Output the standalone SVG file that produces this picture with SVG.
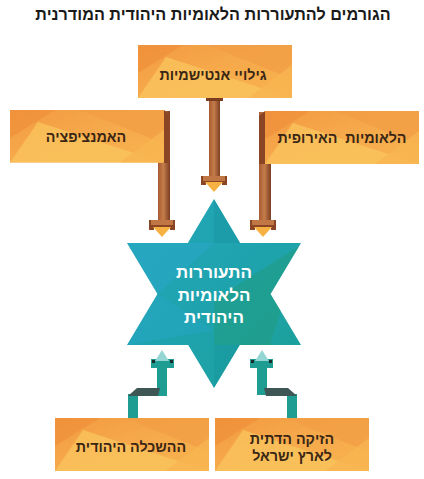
<svg xmlns="http://www.w3.org/2000/svg" xmlns:xlink="http://www.w3.org/1999/xlink" width="424" height="479" viewBox="0 0 424 479">
<style>
  .t { font-family: "Liberation Sans", "DejaVu Sans", sans-serif; font-weight: bold; text-anchor: middle; }
  .title { font-size: 16.2px; fill: #1a1a1a; }
  .box { font-size: 14.3px; fill: #3a2614; }
  .star { font-size: 17px; fill: #ffffff; }
  .shaft { fill: url(#brownShaft); }
  .whead { fill: #8a4524; }
  .yhead { fill: #f7b142; }
  .tshaft { fill: #1f9d93; }
  .tdark { fill: #3e5654; }
  .thead { fill: #1f9d93; }
  .tlight { fill: #93d6d3; }
  .tab { fill: #1b2a2a; }
</style>
<defs>
  <linearGradient id="brownShaft" x1="0" y1="0" x2="1" y2="0">
    <stop offset="0" stop-color="#a85a30"/>
    <stop offset="0.45" stop-color="#c47d4a"/>
    <stop offset="1" stop-color="#7c3e22"/>
  </linearGradient>
  <linearGradient id="boxBase" x1="0" y1="0" x2="1" y2="1">
    <stop offset="0" stop-color="#f39a42"/>
    <stop offset="0.5" stop-color="#f6aa4b"/>
    <stop offset="1" stop-color="#f8b24f"/>
  </linearGradient>
  <linearGradient id="starG" x1="0" y1="0" x2="1" y2="1">
    <stop offset="0" stop-color="#23a6b9"/>
    <stop offset="0.55" stop-color="#1ea3ad"/>
    <stop offset="1" stop-color="#1c9f96"/>
  </linearGradient>
  <g id="boxshape">
    <rect x="0" y="0" width="154" height="53" fill="url(#boxBase)"/>
    <polygon points="0,0 45,0 0,28" fill="#f0913c" opacity="0.8"/>
    <polygon points="0,53 28,12 154,53" fill="#f9c25c" opacity="0.85"/>
    <polygon points="70,0 154,0 154,34" fill="#f29d44" opacity="0.7"/>
    <polygon points="110,53 154,20 154,53" fill="#f7b550" opacity="0.8"/>
  </g>
  <clipPath id="starClip">
    <path d="M214,199 L240.2,243 L301,243 L270.5,294 L301,345 L239.8,345 L214,388 L188.2,345 L127,345 L157.5,294 L127,243 L187.8,243 Z"/>
  </clipPath>
</defs>

<text class="t title" x="213" y="20">הגורמים להתעוררות הלאומיות היהודית המודרנית</text>

<g id="connectors">
  <g id="arrow-top">
    <rect class="shaft" x="209" y="98" width="11" height="79"/>
    <rect x="206" y="98" width="17" height="3" fill="#7a3d20"/>
    <polygon class="whead" points="201,176 227,176 227,185 222,185 222,183 206,183 206,185 201,185"/>
    <rect x="203" y="176" width="22" height="5" fill="#c07645"/>
    <polygon class="yhead" points="205,182 223,182 214,192"/>
  </g>
  <g id="arrow-left">
    <rect class="shaft" x="158" y="111" width="12" height="110"/>
    <polygon class="whead" points="149,220 175,220 175,230 170,230 170,228 154,228 154,230 149,230"/>
    <rect x="151" y="220" width="22" height="5" fill="#c07645"/>
    <polygon class="yhead" points="153,227 171,227 162,237"/>
  </g>
  <g id="arrow-right">
    <rect class="shaft" x="259" y="112" width="12" height="109"/>
    <polygon class="whead" points="250,220 276,220 276,230 271,230 271,228 255,228 255,230 250,230"/>
    <rect x="252" y="220" width="22" height="5" fill="#c07645"/>
    <polygon class="yhead" points="254,227 272,227 263,237"/>
  </g>
  <g id="arrow-bl">
    <rect class="tshaft" x="128" y="394" width="10" height="25"/>
    <rect class="tshaft" x="157" y="366" width="10" height="29"/>
    <polygon class="tshaft" points="157,388 162,388 167,394 167,396 157,396"/>
    <polygon class="tdark" points="128,396 137,388 160,388 158,396"/>
    <polygon class="thead" points="151,359 174,359 174,368 151,368"/>
    <rect class="tab" x="152" y="360" width="3" height="3"/>
    <rect class="tab" x="170" y="360" width="3" height="3"/>
    <polygon class="tlight" points="155,361 169,361 162,350"/>
  </g>
  <g id="arrow-br">
    <rect class="tshaft" x="287" y="394" width="10" height="25"/>
    <rect class="tshaft" x="257" y="366" width="10" height="29"/>
    <polygon class="tdark" points="264,388 288,388 297,396 266,396"/>
    <polygon class="thead" points="250,359 273,359 273,368 250,368"/>
    <rect class="tab" x="251" y="360" width="3" height="3"/>
    <rect class="tab" x="269" y="360" width="3" height="3"/>
    <polygon class="tlight" points="255,361 269,361 262,350"/>
  </g>
</g>

<g id="node-top">
  <use xlink:href="#boxshape" transform="translate(138,45)"/>
  <text class="t box" x="213" y="80">גילויי אנטישמיות</text>
</g>

<g id="node-left">
  <use xlink:href="#boxshape" transform="translate(10,110) scale(1.0,0.99)"/>
  <polygon points="164,110 170,115 170,163 164,163" fill="#8a4524"/>
  <text class="t box" x="86" y="142">האמנציפציה</text>
</g>

<g id="node-right">
  <use xlink:href="#boxshape" transform="translate(265,111)"/>
  <polygon points="259,116 265,111 265,164 259,164" fill="#8a4524"/>
  <text class="t box" x="342" y="143" xml:space="preserve">הלאומיות  האירופית</text>
</g>

<g id="node-star">
  <path d="M214,199 L240.2,243 L301,243 L270.5,294 L301,345 L239.8,345 L214,388 L188.2,345 L127,345 L157.5,294 L127,243 L187.8,243 Z" fill="url(#starG)"/>
  <g clip-path="url(#starClip)">
    <polygon points="127,243 214,243 157.5,294" fill="#2aa9c7" opacity="0.6"/>
    <polygon points="127,345 157.5,294 214,330" fill="#26a6c4" opacity="0.5"/>
    <polygon points="214,300 301,245 270,345 214,345" fill="#219c80" opacity="0.55"/>
    <polygon points="214,199 240,243 214,243" fill="#1b96a3" opacity="0.6"/>
    <polygon points="214,345 240,345 214,388" fill="#18979e" opacity="0.6"/>
  </g>
  <text class="t star" x="214" y="278">התעוררות</text>
  <text class="t star" x="214" y="301">הלאומיות</text>
  <text class="t star" x="214" y="323">היהודית</text>
</g>

<g id="node-bl">
  <use xlink:href="#boxshape" transform="translate(55,418)"/>
  <text class="t box" x="131" y="452">ההשכלה היהודית</text>
</g>

<g id="node-br">
  <use xlink:href="#boxshape" transform="translate(215,418)"/>
  <text class="t box" x="292" y="444">הזיקה הדתית</text>
  <text class="t box" x="292" y="461">לארץ ישראל</text>
</g>
</svg>
